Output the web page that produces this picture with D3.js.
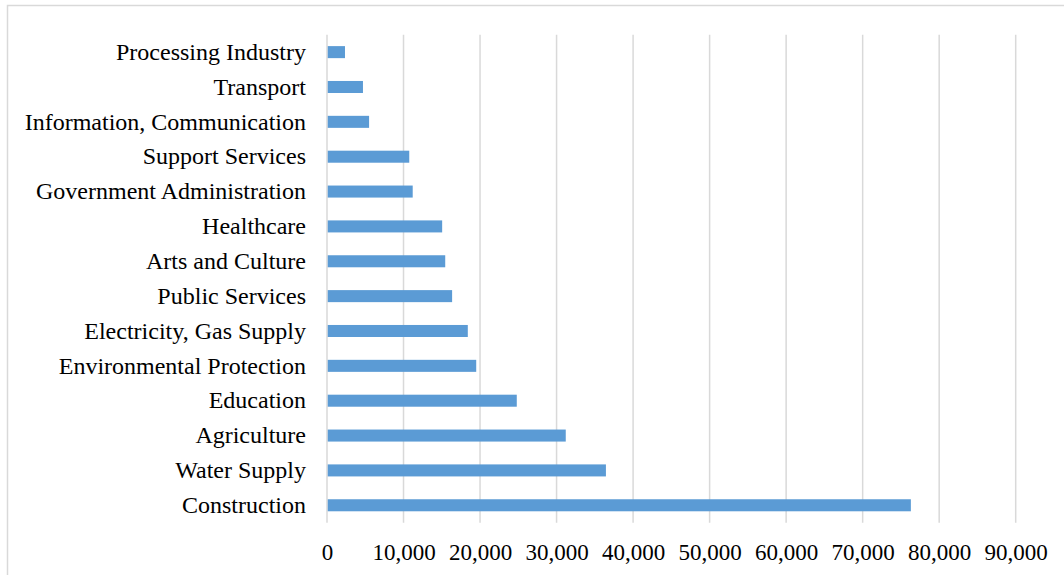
<!DOCTYPE html>
<html>
<head>
<meta charset="utf-8">
<script src="https://cdn.jsdelivr.net/npm/d3@7"></script>
<style>
  html, body { margin: 0; padding: 0; background: #fff; }
  svg { display: block; }
  text { font-family: "Liberation Serif", "Times New Roman", serif; fill: #000; }
</style>
</head>
<body>
<svg id="chart" width="1064" height="575"></svg>
<script>
// Sectors, listed bottom to top as drawn
const categories = [
  "Construction", "Water Supply", "Agriculture", "Education",
  "Environmental Protection", "Electricity, Gas Supply", "Public Services",
  "Arts and Culture", "Healthcare", "Government Administration",
  "Support Services", "Information, Communication", "Transport",
  "Processing Industry"
];
const values = [
  76300, 36450, 31200, 24800,
  19500, 18400, 16350,
  15450, 15050, 11200,
  10750, 5500, 4700,
  2350
];
const xTicks = [0, 10000, 20000, 30000, 40000, 50000, 60000, 70000, 80000, 90000];

const svg = d3.select("#chart");
const W = 1064, H = 575;

// outer chart frame
svg.append("rect")
  .attr("x", 7.5).attr("y", 5.5)
  .attr("width", W + 10).attr("height", H + 10)
  .attr("fill", "#fff").attr("stroke", "#d9d9d9").attr("stroke-width", 1.5);

const plot = { left: 327, right: 1015.7, top: 34.7, bottom: 522.7 };

const x = d3.scaleLinear().domain([0, 90000]).range([plot.left, plot.right]);
const y = d3.scaleBand()
  .domain(categories.slice().reverse())
  .range([plot.top, plot.bottom])
  .paddingInner(0.655)
  .paddingOuter(0.3275);

// vertical gridlines
svg.append("g")
  .selectAll("line")
  .data(xTicks)
  .join("line")
  .attr("x1", d => x(d)).attr("x2", d => x(d))
  .attr("y1", plot.top).attr("y2", plot.bottom)
  .attr("stroke", "#d9d9d9").attr("stroke-width", 1.5);

// bars
svg.append("g")
  .selectAll("rect")
  .data(categories.map((c, i) => ({ c, v: values[i] })))
  .join("rect")
  .attr("x", x(0) + 0.75)
  .attr("y", d => y(d.c))
  .attr("width", d => x(d.v) - x(0) - 0.75)
  .attr("height", y.bandwidth())
  .attr("fill", "#5b9bd5");

// category labels
const yAxis = d3.axisLeft(y).tickSize(0).tickPadding(0);
const gy = svg.append("g")
  .attr("transform", `translate(${plot.left - 21},0)`)
  .call(yAxis);
gy.select(".domain").remove();
gy.selectAll("text")
  .attr("font-size", 24)
  .attr("font-family", "Liberation Serif, Times New Roman, serif")
  .attr("fill", "#000");

// value axis labels
const xAxis = d3.axisBottom(x).tickValues(xTicks).tickSize(0).tickPadding(0)
  .tickFormat(d3.format(","));
const gx = svg.append("g")
  .attr("transform", `translate(0,${plot.bottom + 21})`)
  .call(xAxis);
gx.select(".domain").remove();
gx.selectAll("text")
  .attr("font-size", 23)
  .attr("font-family", "Liberation Serif, Times New Roman, serif")
  .attr("fill", "#000");
</script>
</body>
</html>
